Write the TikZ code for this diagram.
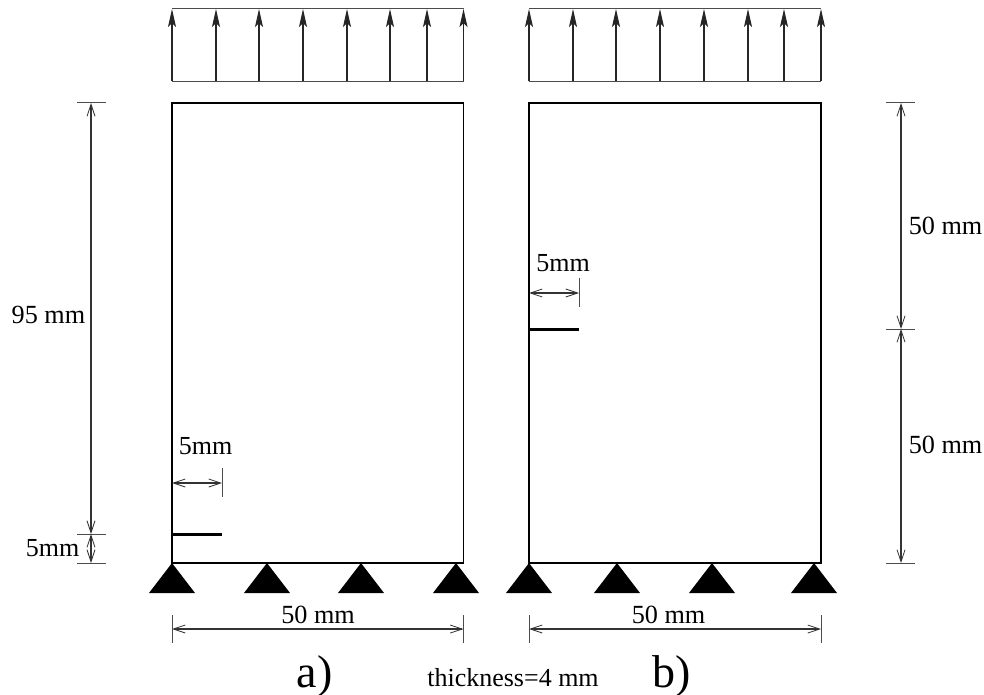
\documentclass[tikz,border=0pt]{standalone}
\usepackage{fontspec}
\setmainfont{Liberation Serif}
\usetikzlibrary{arrows.meta}
\tikzset{
  x=1pt,y=-1pt,
  line/.style={draw=black,line width=1.25pt},
  thinline/.style={draw=black!70,line width=1pt},
  panel/.style={line,line cap=rect},
  crack/.style={draw=black,line width=3pt},
  load/.style={draw=black!85,line width=1.1pt,-{Stealth[length=18pt,width=8pt,inset=4pt]}},
  dim/.style={draw=black!80,line width=1.1pt,{Straight Barb[length=12pt,width=8pt,line width=0.8pt]}-{Straight Barb[length=12pt,width=8pt,line width=0.8pt]}},
  support/.style={fill=black,draw=none},
  lab/.style={inner sep=0pt,font=\fontsize{26.2}{27}\selectfont},
  labb/.style={inner sep=0pt,font=\fontsize{26}{27}\selectfont},
  big/.style={inner sep=0pt,anchor=base,font=\fontsize{46}{46}\selectfont},
  small/.style={inner sep=0pt,anchor=base,font=\fontsize{26}{26}\selectfont},
}
\begin{document}
\begin{tikzpicture}
\useasboundingbox (0,0) rectangle (984,695);
\fill[white] (0,0) rectangle (984,695);
% ---- left panel
\coordinate (aTL) at (172,103); \coordinate (aTR) at (463.5,103);
\coordinate (aBL) at (172,563); \coordinate (aBR) at (463.5,563);
\draw[panel] (aTL) -- (aTR) -- (aBR) -- (aBL) -- cycle;
\coordinate (aLT) at (172,9); \coordinate (aLTR) at (463.5,9);
\coordinate (aLB) at (172,81.5); \coordinate (aLBR) at (463.5,81.5);
\draw[thinline] (aLT) -- (aLTR);
\draw[thinline] (aLB) -- (aLBR);
\foreach \x in {172,216,259,303,347,390,427,463.5}
  \draw[load] (\x,81.5) -- (\x,9);
\coordinate (aC1) at (172,534); \coordinate (aC2) at (222,534);
\draw[crack] (aC1) -- (aC2);
\foreach \x in {172,267,361,456}
  \fill[support] (\x,563) -- (\x+23,593) -- (\x-23,593) -- cycle;
% dims left
\foreach \y in {103,534,563} \draw[thinline] (77,\y) -- (106,\y);
\coordinate (d1) at (91,103); \coordinate (d2) at (91,534); \coordinate (d3) at (91,563);
\draw[dim] (d1) -- (d2);
\draw[dim] (d2) -- (d3);
\node[lab] (t95) at (48.5,315) {95 mm};
\node[labb] (t5a) at (52.5,548) {5mm};
\draw[thinline] (222,468) -- (222,497);
\coordinate (e1) at (172,483); \coordinate (e2) at (222,483);
\draw[dim] (e1) -- (e2);
\node[labb] (t5b) at (205.5,446) {5mm};
\draw[thinline] (172,615) -- (172,643);
\draw[thinline] (463.5,615) -- (463.5,643);
\coordinate (f1) at (172,629); \coordinate (f2) at (463.5,629);
\draw[dim] (f1) -- (f2);
\node[lab] (t50a) at (318,615) {50 mm};
\node[big] (ta) at (314.5,687) {a)};
% ---- right panel
\coordinate (bTL) at (529,103); \coordinate (bTR) at (821,103);
\coordinate (bBL) at (529,563); \coordinate (bBR) at (821,563);
\draw[panel] (bTL) -- (bTR) -- (bBR) -- (bBL) -- cycle;
\coordinate (bLT) at (529,9); \coordinate (bLTR) at (821,9);
\coordinate (bLB) at (529,81.5); \coordinate (bLBR) at (821,81.5);
\draw[thinline] (bLT) -- (bLTR);
\draw[thinline] (bLB) -- (bLBR);
\foreach \x in {529,573,616,660,704,748,784,821}
  \draw[load] (\x,81.5) -- (\x,9);
\coordinate (bC1) at (529,329); \coordinate (bC2) at (579,329);
\draw[crack] (bC1) -- (bC2);
\foreach \x in {529,617,712,814}
  \fill[support] (\x,563) -- (\x+23,593) -- (\x-23,593) -- cycle;
\foreach \y in {103,329,563} \draw[thinline] (886,\y) -- (915,\y);
\coordinate (g1) at (901,103); \coordinate (g2) at (901,329); \coordinate (g3) at (901,563);
\draw[dim] (g1) -- (g2);
\draw[dim] (g2) -- (g3);
\node[lab] (t50b) at (945.5,226) {50 mm};
\node[lab] (t50c) at (945.5,445) {50 mm};
\draw[thinline] (579,278) -- (579,307);
\coordinate (h1) at (529,293); \coordinate (h2) at (579,293);
\draw[dim] (h1) -- (h2);
\node[labb] (t5c) at (563,263) {5mm};
\draw[thinline] (529,615) -- (529,643);
\draw[thinline] (821,615) -- (821,643);
\coordinate (i1) at (529,629); \coordinate (i2) at (821,629);
\draw[dim] (i1) -- (i2);
\node[lab] (t50d) at (668.5,615) {50 mm};
\node[big] (tb) at (671.5,687) {b)};
\node[small] (tt) at (513,686) {thickness=4 mm};
\end{tikzpicture}
\end{document}
